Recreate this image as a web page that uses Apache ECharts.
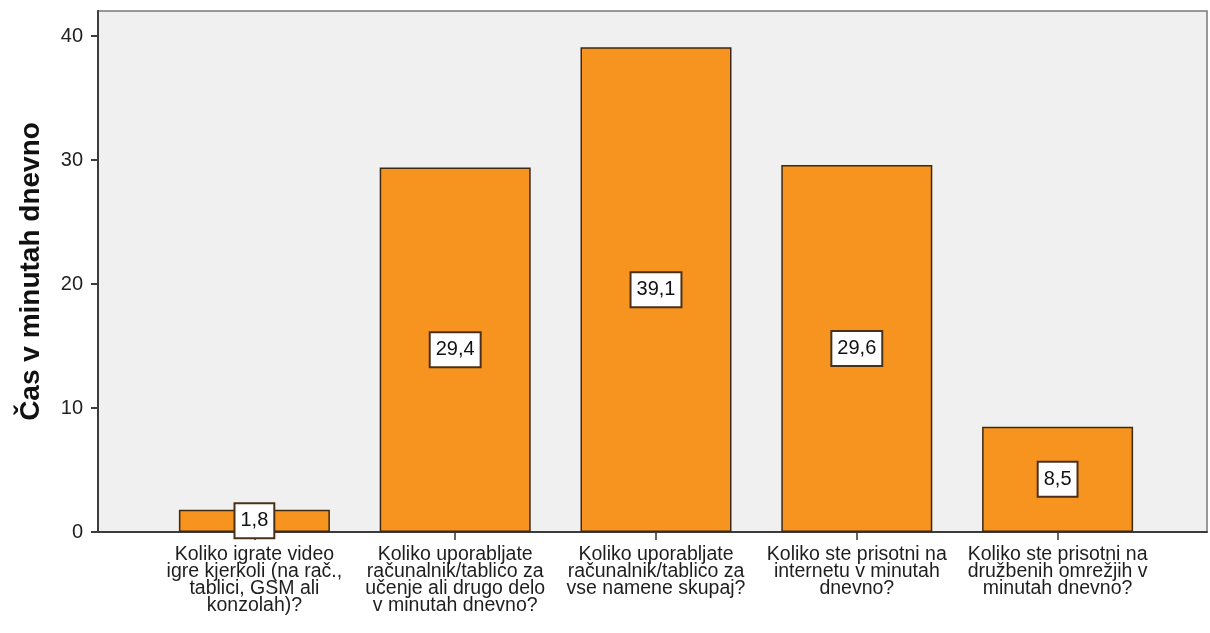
<!DOCTYPE html>
<html>
<head>
<meta charset="utf-8">
<script src="https://cdn.jsdelivr.net/npm/echarts@6/dist/echarts.min.js"></script>
<style>html,body{margin:0;padding:0;background:#fff}#c{width:1210px;height:633px}</style>
</head>
<body>
<div id="c"></div>
<script>
var categories = [
  "Koliko igrate video\nigre kjerkoli (na rač.,\ntablici, GSM ali\nkonzolah)?",
  "Koliko uporabljate\nračunalnik/tablico za\nučenje ali drugo delo\nv minutah dnevno?",
  "Koliko uporabljate\nračunalnik/tablico za\nvse namene skupaj?",
  "Koliko ste prisotni na\ninternetu v minutah\ndnevno?",
  "Koliko ste prisotni na\ndružbenih omrežjih v\nminutah dnevno?"
];
var values = [1.8, 29.4, 39.1, 29.6, 8.5];
var yMax = 40, yStep = 10;
var yAxisTitle = "Čas v minutah dnevno";

var chart = echarts.init(document.getElementById('c'));
var font = "'Liberation Sans', Arial, sans-serif";
var dark = '#3c3c3c';
chart.setOption({
  animation: false,
  backgroundColor: '#ffffff',
  grid: [
    {left: 98, right: 3, top: 11, bottom: 101, show: true, backgroundColor: '#f0f0f0', borderColor: '#7a7a7a', borderWidth: 1.5},
    {left: 98, right: 3, top: 36.2, bottom: 101, show: false},
    {left: 154, right: 52, top: 36.2, bottom: 101, show: false}
  ],
  xAxis: [
    {gridIndex: 0, type: 'value', min: 0, max: 1,
      axisLine: {show: true, onZero: false, lineStyle: {color: dark, width: 2}},
      axisTick: {show: false}, axisLabel: {show: false}, splitLine: {show: false}},
    {gridIndex: 1, type: 'value', min: 0, max: 1, show: false, splitLine: {show: false}},
    {gridIndex: 2, type: 'category', data: categories,
      axisLine: {show: false},
      axisTick: {show: true, alignWithLabel: true, length: 8, lineStyle: {color: '#333', width: 1.5}},
      axisLabel: {interval: 0, margin: 14, fontFamily: font, fontSize: 19.5, lineHeight: 17, color: '#1e1e1e', align: 'center'}}
  ],
  yAxis: [
    {gridIndex: 0, type: 'value', min: 0, max: 1,
      name: yAxisTitle, nameLocation: 'middle', nameGap: 53,
      nameTextStyle: {fontFamily: font, fontSize: 28, fontWeight: 'bold', color: '#111'},
      axisLine: {show: true, onZero: false, lineStyle: {color: dark, width: 2}},
      axisTick: {show: false}, axisLabel: {show: false}, splitLine: {show: false}},
    {gridIndex: 1, type: 'value', min: 0, max: yMax, interval: yStep,
      axisLine: {show: true, onZero: false, lineStyle: {color: dark, width: 2}},
      axisTick: {show: true, inside: false, length: 7, lineStyle: {color: dark, width: 2}},
      axisLabel: {margin: 15, fontFamily: font, fontSize: 20, color: '#222'},
      splitLine: {show: false}},
    {gridIndex: 2, type: 'value', min: 0, max: yMax, interval: yStep, show: false, splitLine: {show: false}}
  ],
  series: [{
    type: 'bar', xAxisIndex: 2, yAxisIndex: 2,
    data: values, barWidth: 151,
    itemStyle: {color: '#f7941f', borderColor: '#3d2812', borderWidth: 1.5},
    label: {show: true, position: 'inside', fontFamily: font, fontSize: 20, color: '#111',
      backgroundColor: '#ffffff', borderColor: '#4a3018', borderWidth: 2, padding: [7, 5, 6, 5],
      formatter: function (p) { return String(p.value).replace('.', ','); }}
  }]
});
</script>
</body>
</html>
